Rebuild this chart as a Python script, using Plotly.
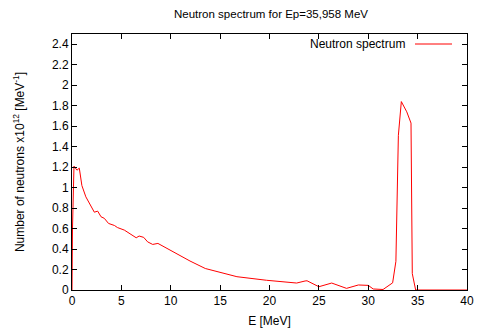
import plotly.graph_objects as go

energy = [0.0, 0.05, 0.2, 0.5, 0.74, 1.0, 1.4, 1.9, 2.26, 2.6, 2.94, 3.27, 3.7, 4.3, 4.6,
          5.3, 6.0, 6.5, 6.8, 7.26, 7.66, 8.17, 8.7, 9.9, 11.95, 13.5, 15.0, 16.7, 19.7,
          22.75, 23.6, 23.8, 25.0, 26.3, 27.8, 29.0, 30.0, 30.5, 31.5, 32.1, 32.47, 32.8,
          33.05, 33.35, 33.9, 34.33, 34.46, 34.8, 40.0]
counts = [0.0, 0.6, 1.21, 1.17, 1.19, 1.02, 0.91, 0.83, 0.76, 0.77, 0.715, 0.70, 0.65, 0.63, 0.61,
          0.585, 0.54, 0.51, 0.527, 0.514, 0.47, 0.445, 0.455, 0.39, 0.283, 0.21, 0.17, 0.13, 0.095,
          0.068, 0.088, 0.09, 0.032, 0.068, 0.016, 0.049, 0.045, 0.01, 0.005, 0.04, 0.07, 0.28,
          1.51, 1.84, 1.74, 1.63, 0.16, 0.0, 0.0]

x_ticks = [0, 5, 10, 15, 20, 25, 30, 35, 40]
y_ticks = [0, 0.2, 0.4, 0.6, 0.8, 1, 1.2, 1.4, 1.6, 1.8, 2, 2.2, 2.4]
y_labels = ["0", "0.2", "0.4", "0.6", "0.8", "1", "1.2", "1.4", "1.6", "1.8", "2", "2.2", "2.4"]
series_name = "Neutron spectrum"

font = "Liberation Sans, Arial, sans-serif"
W, H = 477, 330
L, R, T, B = 72, 10, 34, 40
pw, ph = W - L - R, H - T - B

fig = go.Figure()
fig.add_trace(go.Scatter(x=energy, y=counts, mode="lines", name=series_name,
                         line=dict(color="red", width=1), showlegend=False))

# gnuplot-style key: text then line sample on the right
key_y = 1 - (44 - T) / ph
fig.add_annotation(xref="paper", yref="paper", x=(407 - L) / pw, y=key_y, xanchor="right",
                   yanchor="middle", text=series_name, showarrow=False,
                   font=dict(size=12, color="black"))
fig.add_shape(type="line", xref="paper", yref="paper", x0=(415 - L) / pw, x1=(452 - L) / pw,
              y0=key_y, y1=key_y, line=dict(color="red", width=1))

fig.update_layout(
    width=W, height=H,
    margin=dict(l=L, r=R, t=T, b=B, autoexpand=False),
    paper_bgcolor="white", plot_bgcolor="white",
    font=dict(family=font, size=12, color="black"),
    title=dict(text="Neutron spectrum for Ep=35,958 MeV", x=(271 / W), xanchor="center",
               y=1 - 14 / H, yanchor="middle", font=dict(size=11.5)),
    showlegend=False,
)
fig.update_xaxes(range=[0, 40], tickvals=x_ticks, ticks="inside", ticklen=5, tickcolor="black",
                 showline=True, linecolor="black", linewidth=1, mirror="allticks",
                 showgrid=False, zeroline=False, automargin=False,
                 title=dict(text="E [MeV]", font=dict(size=12), standoff=9))
fig.update_yaxes(range=[0, 2.5], tickvals=y_ticks, ticktext=y_labels, ticks="inside", ticklen=5,
                 tickcolor="black", showline=True, linecolor="black", linewidth=1, mirror="allticks",
                 showgrid=False, zeroline=False, automargin=False,
                 title=dict(text="Number of neutrons x10<sup>12</sup> [MeV<sup>-1</sup>]",
                            font=dict(size=12), standoff=24))

fig.write_html("out.html")
